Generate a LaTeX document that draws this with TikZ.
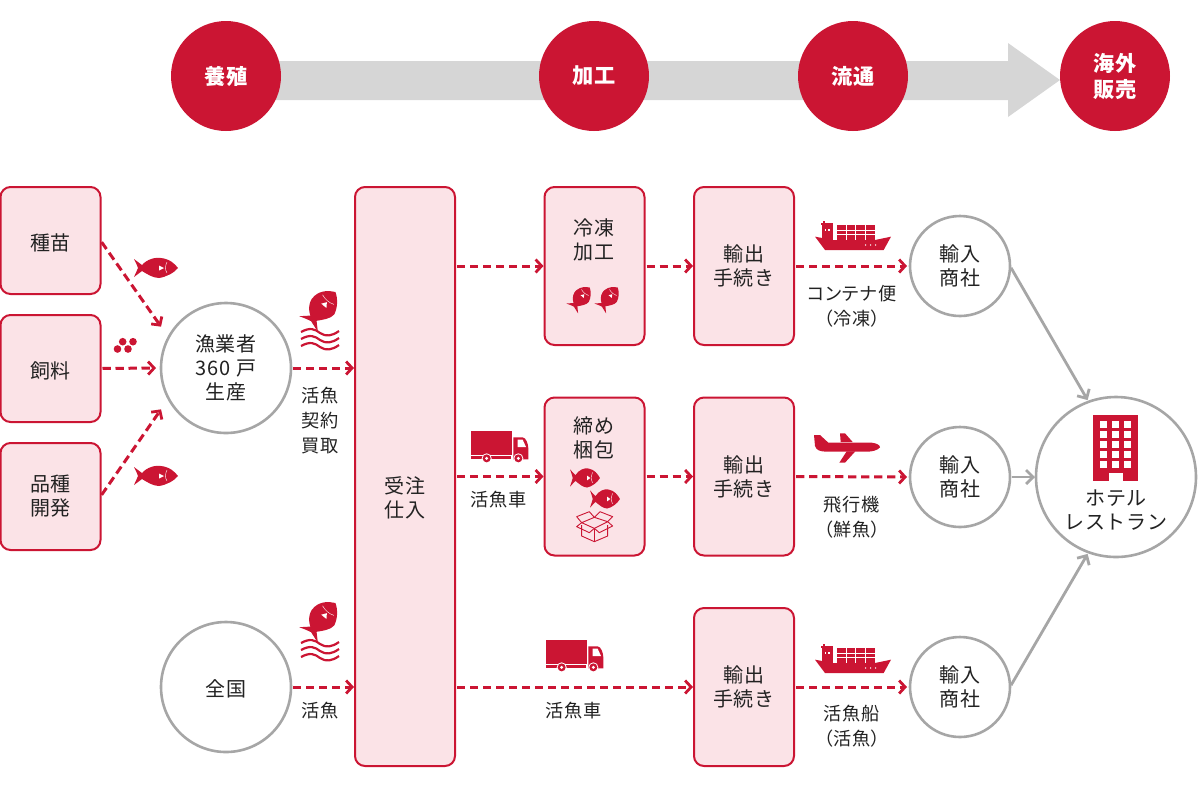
\documentclass[tikz,border=0pt]{standalone}
\usepackage{fontspec}
\usetikzlibrary{arrows.meta,calc}
\setmainfont[LetterSpace=4]{Noto Sans CJK JP}
\newfontfamily\paltfont[RawFeature=+palt,LetterSpace=4]{Noto Sans CJK JP}
\definecolor{rd}{HTML}{CB1533}
\definecolor{pk}{HTML}{FBE3E7}
\definecolor{gy}{HTML}{A6A6A6}
\definecolor{bandgy}{HTML}{D6D6D6}
\definecolor{ink}{HTML}{222222}
\tikzset{
  base/.style={font=\fontsize{10pt}{12pt}\selectfont,text=ink,align=center,inner sep=0pt,outer sep=0pt},
  nudged/.style={execute at begin node={\rule{0pt}{10.4pt}}},
  head/.style={circle,fill=rd,minimum size=55pt,base,text=white,font=\fontsize{10.6pt}{13pt}\selectfont\bfseries},
  pinkbox/.style={base,nudged,draw=rd,fill=pk,line width=1pt,rounded corners=5pt,minimum width=50pt},
  ring/.style={base,nudged,circle,draw=gy,fill=white,line width=1.3pt},
  lab/.style={base,font=\fontsize{9.1pt}{12.6pt}\selectfont},
  redarrow/.style={draw=rd,line width=1.5pt,dash pattern=on 4.2pt off 2.3pt,shorten <=1pt,shorten >=.5pt,-{Straight Barb[length=3pt,width=6.5pt,line width=1.4pt]}},
  grayarrow/.style={draw=gy,line width=1.4pt,-{Straight Barb[length=3.5pt,width=7pt,line width=1.4pt]}},
  pics/fish/.style={code={
    \fill[rd] (-22,-9) .. controls (-19,-7) and (-17,-5) .. (-14,-3)
      .. controls (-9,-9) and (0,-11) .. (5,-10) .. controls (14,-9) and (19,-4) .. (22,0)
      .. controls (18,5) and (10,9) .. (3,10) .. controls (-3,10) and (-9,6) .. (-14,3)
      .. controls (-17,5) and (-19,7) .. (-22,9) .. controls (-20,4) and (-19,3) .. (-18,0)
      .. controls (-19,-3) and (-20,-5) .. (-22,-9) -- cycle;
    \fill[white] (3,-2.5) -- (8,0) -- (3,2.5) -- cycle;
    \draw[white,line width=.2pt] (11,-6) .. controls (9,-2) and (9,2) .. (11,5);
  }},
  pics/waves/.style={code={
    \foreach \dy in {-7,0,7}{
      \draw[rd,line width=1.1pt,yshift=-\dy*0.5pt] (-19,-1) .. controls (-10,-6) and (-5,-4) .. (0,0) .. controls (6,4) and (12,3) .. (19,-2);
    }
  }},
  pics/truck/.style={code={\begin{scope}[scale=1/3]
    \fill[rd] (0,0) rectangle (122,72);
    \fill[rd] (0,74) rectangle (120,85);
    \fill[rd] (127,19) -- (155,19) .. controls (165,19) and (172,40) .. (172,52) -- (172,85) -- (127,85) -- cycle;
    \fill[white] (140,26) -- (155,26) -- (165,48) -- (140,48) -- cycle;
    \foreach \wx in {47,142}{
      \fill[white] (\wx,82) circle (15);
      \fill[rd] (\wx,82) circle (12);
      \fill[white] (\wx,82) circle (5);
    }
  \end{scope}}},
  pics/ship/.style={code={\begin{scope}[scale=1/3]
    \fill[rd] (0,44) -- (54,54) -- (180,54) -- (228,44) -- (206,84) -- (30,84) -- cycle;
    \fill[rd] (22,9) rectangle (53,54);
    \fill[rd] (17,2) rectangle (55,10);
    \fill[rd] (24,-3) rectangle (29,3);
    \fill[white] (29,21) rectangle (34,27);
    \fill[white] (39,21) rectangle (44,27);
    \fill[rd] (65,10) rectangle (180,54);
    \foreach \cx in {93,122,151}{\fill[white] (\cx-.6,10) rectangle (\cx+.6,54);}
    \foreach \cy in {24,38}{\fill[white] (65,\cy-.7) rectangle (180,\cy+.7);}
    \foreach \dx in {152,167,182}{\fill[white] (\dx,69) circle (2.4);}
  \end{scope}}},
  pics/plane/.style={code={\begin{scope}[scale=1/3]
    \fill[rd] (72,45) -- (90,45) -- (115,68) -- (245,68) .. controls (262,70) and (270,76) .. (270,82)
      .. controls (262,92) and (245,95) .. (230,95) -- (110,95) .. controls (90,95) and (78,90) .. (75,78) -- cycle;
    \fill[rd] (150,40) -- (165,40) -- (188,66) -- (152,66) -- cycle;
    \fill[rd] (170,94) -- (196,94) -- (165,128) -- (148,128) -- cycle;
  \end{scope}}},
  pics/carton/.style={code={\begin{scope}[scale=1/3,draw=rd,line width=.45pt,line join=round]
    \draw (365,375) -- (365,408) -- (403,425) -- (443,408) -- (443,375);
    \draw (403,388) -- (403,425);
    \draw (403,352) -- (443,365) -- (403,385) -- (365,368) -- cycle;
    \draw (365,368) -- (350,350) -- (388,335) -- (403,352) -- (420,335) -- (458,350) -- (443,365);
    \draw (365,368) -- (350,380) -- (388,398) -- (403,385) -- (418,398) -- (458,378) -- (443,365);
  \end{scope}}},
}
\begin{document}
\begin{tikzpicture}[x=0.5pt,y=-0.5pt]
\useasboundingbox (0,0) rectangle (1200,800);
% process band
\fill[bandgy] (226,61) -- (1008,61) -- (1008,43) -- (1060,80) -- (1008,117) -- (1008,100) -- (226,100) -- cycle;
\node[head] (h1) at (226,76) {養殖};
\node[head] (h2) at (594,76) {加工};
\node[head] (h3) at (853,76) {流通};
\node[head] (h4) at (1115,76) {海外\\販売};
% boxes
\node[pinkbox,minimum height=53.5pt] (seed) at (50.5,240.5) {種苗};
\node[pinkbox,minimum height=53.5pt] (feed) at (50.5,368.5) {飼料};
\node[pinkbox,minimum height=53.5pt] (breed) at (50.5,496.5) {品種\\開発};
\node[pinkbox,minimum height=289.5pt] (order) at (405,476.5) {};
\node[base] (ordert) at (405,498) {受注\\仕入};
\node[pinkbox,minimum height=79pt] (cold) at (594.5,266) {};
\node[pinkbox,minimum height=79pt] (pack) at (594.5,476.5) {};
\node[pinkbox,minimum height=79pt] (ex1) at (744,266) {輸出\\手続き};
\node[pinkbox,minimum height=79pt] (ex2) at (744,476.5) {輸出\\手続き};
\node[pinkbox,minimum height=79pt] (ex3) at (744,687) {輸出\\手続き};
\node[base] (coldt) at (594,240) {冷凍\\加工};
\node[base] (packt) at (594,438) {締め\\梱包};
% circles
\node[ring,minimum size=65pt] (fisher) at (226,368) {漁業者\\360 戸\\生産};
\node[ring,minimum size=65pt] (all) at (226,687) {全国};
\node[ring,minimum size=50pt] (trA) at (960,266) {輸入\\商社};
\node[ring,minimum size=50pt] (trB) at (960,477) {輸入\\商社};
\node[ring,minimum size=50pt] (trC) at (960,687) {輸入\\商社};
\node[ring,minimum size=80pt] (hotel) at (1116,477) {};
\node[base] (hotelt) at (1116,510) {ホテル\\レストラン};
% hotel icon
\fill[rd] (1093,415) rectangle (1138,481);
\foreach \wx in {1100,1112,1124}{\foreach \wy in {421,431,441,451,461}{\fill[white] (\wx,\wy) rectangle +(7.4,7);}}
\fill[white] (1109,473) rectangle (1123,482);
% red connectors
\draw[redarrow] (seed.east) -- ($(fisher.152)+(-7,-10)$);
\draw[redarrow] (feed.east) -- ($(fisher.west)+(-4,0)$);
\draw[redarrow] (breed.east) -- ($(fisher.208)+(-7,10)$);
\draw[redarrow] (fisher.east) -- (fisher.east -| order.west);
\draw[redarrow] (all.east) -- (all.east -| order.west);
\draw[redarrow] (cold.west -| order.east) -- (cold.west);
\draw[redarrow] (pack.west -| order.east) -- (pack.west);
\draw[redarrow] (ex3.west -| order.east) -- (ex3.west);
\draw[redarrow] (cold.east) -- (ex1.west);
\draw[redarrow] (pack.east) -- (ex2.west);
\draw[redarrow] (ex1.east) -- ($(trA.west)+(-2,0)$);
\draw[redarrow] (ex2.east) -- ($(trB.west)+(-2,0)$);
\draw[redarrow] (ex3.east) -- ($(trC.west)+(-2,0)$);
% gray connectors
\draw[grayarrow,shorten <=1pt,shorten >=1pt] (trA.east) -- (hotel.110);
\draw[grayarrow,shorten <=1pt,shorten >=.5pt] (trB.east) -- (hotel.west);
\draw[grayarrow,shorten <=1pt,shorten >=1pt] (trC.east) -- (hotel.250);
% labels
\node[lab] (l1) at (320,420.5) {活魚\\契約\\買取};
\node[lab] (l2) at (320,711) {活魚};
\node[lab] (l3) at (499,499.5) {活魚車};
\node[lab] (l4) at (574,711) {活魚車};
\node[lab,font=\fontsize{9.1pt}{12.6pt}\paltfont] (l5) at (852,306) {コンテナ便\\（冷凍）};
\node[lab,font=\fontsize{9.1pt}{12.6pt}\paltfont] (l6) at (852,517) {飛行機\\（鮮魚）};
\node[lab,font=\fontsize{9.1pt}{12.6pt}\paltfont] (l7) at (852,726.5) {活魚船\\（活魚）};
% icons
\pic at (156,268) {fish};
\pic at (156,476) {fish};
\foreach \dx/\dy in {122.7/341.7,133/341.7,117.5/349,128/349}{\fill[rd] (\dx,\dy) circle (3.8);}
\pic[rotate=50,xscale=.95,yscale=1.35] at (322,308) {fish};
\pic at (320,340) {waves};
\pic[rotate=50,xscale=.95,yscale=1.35] at (322,619) {fish};
\pic at (320,651) {waves};
\pic[rotate=50,xscale=.62,yscale=.85] at (581,298) {fish};
\pic[rotate=50,xscale=.62,yscale=.85] at (609,298) {fish};
\pic[xscale=.68,yscale=.95] at (585,478) {fish};
\pic[xscale=.68,yscale=.95] at (605,499) {fish};
\pic at (460,400) {carton};
\pic at (471,431) {truck};
\pic at (546,640) {truck};
\pic at (815,222) {ship};
\pic at (815,645) {ship};
\pic at (790,420) {plane};
\end{tikzpicture}
\end{document}
